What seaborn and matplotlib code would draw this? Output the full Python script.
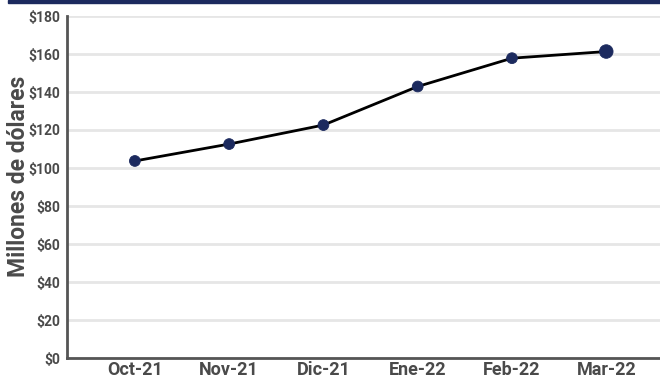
import matplotlib
matplotlib.use("Agg")
import matplotlib.pyplot as plt
import seaborn as sns
import pandas as pd
from matplotlib.patches import Rectangle
from matplotlib.ticker import FuncFormatter

# ── data ─────────────────────────────────────────────────────────────────
months = ["Oct-21", "Nov-21", "Dic-21", "Ene-22", "Feb-22", "Mar-22"]
values = [103.7, 112.6, 122.6, 142.9, 157.8, 161.3]
marker_size = [60, 60, 60, 60, 60, 95]   # last point drawn a bit larger

df = pd.DataFrame({"mes": months, "valor": values, "tam": marker_size})

navy = "#1c2a5e"
grey_txt = "#4a4a4a"

sns.set_style("white")
plt.rcParams["font.family"] = ["Roboto", "DejaVu Sans"]

fig = plt.figure(figsize=(6.6, 3.79), dpi=100)
ax = fig.add_axes([67 / 660, 21 / 379, 593 / 660, 342 / 379])

sns.lineplot(data=df, x="mes", y="valor", color="black", linewidth=2, ax=ax, zorder=3)
sns.scatterplot(data=df, x="mes", y="valor", size="tam", sizes=(60, 95),
                color=navy, edgecolor=navy, legend=False, ax=ax, zorder=4)

ax.set_ylim(0, 180)
ax.set_xlim(-0.72, 5.57)
ax.set_yticks(range(0, 181, 20))
ax.yaxis.set_major_formatter(FuncFormatter(lambda v, p: f"${v:.0f}"))
ax.grid(axis="y", color="#e6e6e6", linewidth=2)
ax.set_axisbelow(True)

for s in ["top", "right"]:
    ax.spines[s].set_visible(False)
for s in ["left", "bottom"]:
    ax.spines[s].set_color("#555555")
    ax.spines[s].set_linewidth(2)

ax.tick_params(axis="y", length=0, pad=5, labelsize=10, labelcolor=grey_txt)
ax.tick_params(axis="x", length=0, pad=2, labelsize=13, labelcolor=grey_txt)
for lbl in ax.get_xticklabels() + ax.get_yticklabels():
    lbl.set_fontweight("bold")

ax.set_xlabel("")
ax.set_ylabel("Millones de dólares", fontsize=16.5, fontweight="bold", color=grey_txt)
ax.yaxis.set_label_coords(-0.062, 0.53)

# navy band along the top edge
fig.patches.append(Rectangle((8 / 660, 1 - 3 / 379), 1, 3 / 379,
                             transform=fig.transFigure, color=navy, zorder=5))

fig.savefig("out.png", dpi=100)
